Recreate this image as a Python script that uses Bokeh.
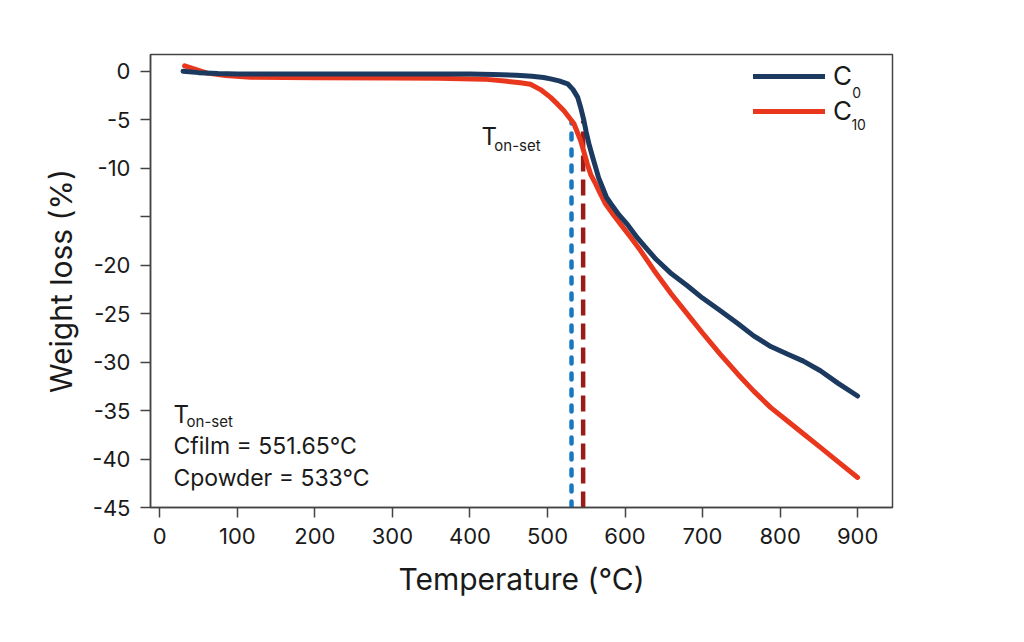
from bokeh.plotting import figure
from bokeh.models import Range1d, FixedTicker, Legend, LegendItem, Label
from bokeh.embed import file_html
from bokeh.resources import INLINE

# ---- data ----
temp_c0 = [30, 50, 75, 100, 150, 200, 250, 300, 350, 400, 430, 460, 480, 495, 504, 515, 526, 533, 539, 543,
           547, 550, 553.5, 558, 562, 566, 571, 576, 582, 592, 603, 616, 629, 640, 660, 680, 700, 723, 745,
           766, 788, 810, 830, 852, 875, 900]
wl_c0 = [0.0, -0.15, -0.25, -0.28, -0.3, -0.3, -0.3, -0.3, -0.3, -0.3, -0.33, -0.42, -0.52, -0.65, -0.79,
         -1.0, -1.3, -1.9, -2.7, -3.8, -5.1, -6.3, -7.5, -8.8, -9.9, -11.0, -12.0, -13.0, -13.7, -14.8, -15.8,
         -17.2, -18.4, -19.4, -20.9, -22.1, -23.4, -24.7, -26.0, -27.3, -28.4, -29.2, -29.9, -30.9, -32.2, -33.5]

temp_c10 = [32, 45, 61, 85, 117, 200, 300, 360, 418, 448, 465, 478, 491, 504, 513, 521, 534, 543, 551.5, 556,
            562, 568, 575, 585, 594.5, 607, 620, 637, 660, 680, 700, 723, 745, 766, 788, 810, 830, 852, 875, 900]
wl_c10 = [0.55, 0.2, -0.2, -0.45, -0.62, -0.68, -0.7, -0.72, -0.82, -1.05, -1.2, -1.35, -1.9, -2.7, -3.4,
          -4.06, -5.4, -7.2, -9.6, -10.7, -11.6, -12.6, -13.7, -14.8, -15.8, -17.1, -18.5, -20.5, -23.0, -25.0,
          -27.0, -29.2, -31.2, -33.0, -34.7, -36.1, -37.4, -38.8, -40.3, -41.9]

onset_temps = [531, 546]          # powder (blue), film (dark red)
onset_tops = [-5.1, -5.1]
onset_bottom = -45

x_ticks = [0, 100, 200, 300, 400, 500, 600, 700, 800, 900]
y_ticks = [0, -5, -10, -15, -20, -25, -30, -35, -40, -45]
y_tick_labels = ["0", "-5", "-10", "", "-20", "-25", "-30", "-35", "-40", "-45"]

series_base = ["C", "C"]
series_subs = ["0", "10"]

FONT = "Inter"
TXT = "#1a1a1a"
NAVY = "#1c3a60"
RED = "#e8371d"
BLUE_D = "#1a78c2"
DRED_D = "#9a1c18"

p = figure(width=1000, height=626, output_backend="svg", toolbar_location=None,
           x_range=Range1d(-12, 945), y_range=Range1d(-45, 1.72),
           min_border_left=150, min_border_right=108, min_border_top=54, min_border_bottom=119)
p.grid.visible = False
p.background_fill_color = "white"
p.border_fill_color = "white"
p.outline_line_color = "#444444"
p.outline_line_width = 1.5

# dashed onset lines
p.segment(x0=[onset_temps[0]], y0=[onset_bottom], x1=[onset_temps[0]], y1=[onset_tops[0]],
          line_color=BLUE_D, line_width=4.5, line_dash="6 10", line_cap="round")
p.segment(x0=[onset_temps[1]], y0=[onset_bottom], x1=[onset_temps[1]], y1=[onset_tops[1]],
          line_color=DRED_D, line_width=4.5, line_dash="16 8")

r10 = p.line(temp_c10, wl_c10, line_color=RED, line_width=5, line_cap="round", line_join="round")
r0 = p.line(temp_c0, wl_c0, line_color=NAVY, line_width=5, line_cap="round", line_join="round")

# axes
for ax in (p.xaxis[0], p.yaxis[0]):
    ax.axis_line_color = "#444444"
    ax.axis_line_width = 1.5
    ax.major_tick_line_color = "#444444"
    ax.major_tick_line_width = 1.5
    ax.major_tick_out = 10
    ax.major_tick_in = 0
    ax.minor_tick_line_color = None
    ax.major_label_text_font = FONT
    ax.major_label_text_font_size = "22px"
    ax.major_label_text_color = TXT
    ax.major_label_standoff = 10
    ax.axis_label_text_font = FONT
    ax.axis_label_text_font_size = "30px"
    ax.axis_label_text_font_style = "normal"
    ax.axis_label_text_color = TXT
    ax.axis_label_standoff = 14

p.yaxis.axis_label_standoff = 10
p.xaxis.ticker = FixedTicker(ticks=x_ticks)
p.yaxis.ticker = FixedTicker(ticks=y_ticks)
p.yaxis.major_label_overrides = dict(zip(y_ticks, y_tick_labels))
p.xaxis.axis_label = "Temperature (°C)"
p.yaxis.axis_label = "Weight loss (%)"

# legend
legend = Legend(items=[LegendItem(label=series_base[0], renderers=[r0]),
                       LegendItem(label=series_base[1], renderers=[r10])],
                location=(603, 381), orientation="vertical",
                glyph_width=72, glyph_height=30, label_height=30, spacing=4,
                padding=0, margin=0, label_standoff=8,
                border_line_color=None, background_fill_alpha=0,
                label_text_font=FONT, label_text_font_size="26px", label_text_color=TXT)
p.add_layout(legend)

# annotations
def txt(x, y, s, size):
    p.add_layout(Label(x=x, y=y, text=s, text_font=FONT, text_font_size=size,
                       text_color=TXT, text_baseline="alphabetic", text_align="left"))

txt(893, -2.2, series_subs[0], "14px")
txt(892, -5.55, series_subs[1], "14px")
txt(415, -6.74, "T", "24px")
txt(431.5, -7.7, "on-set", "15px")
txt(17.6, -35.4, "T", "24px")
txt(34.5, -36.1, "on-set", "15px")
txt(17.6, -38.7, "Cfilm = 551.65°C", "23px")
txt(17.6, -42.0, "Cpowder = 533°C", "23px")

open("out.html", "w").write(file_html(p, INLINE))
